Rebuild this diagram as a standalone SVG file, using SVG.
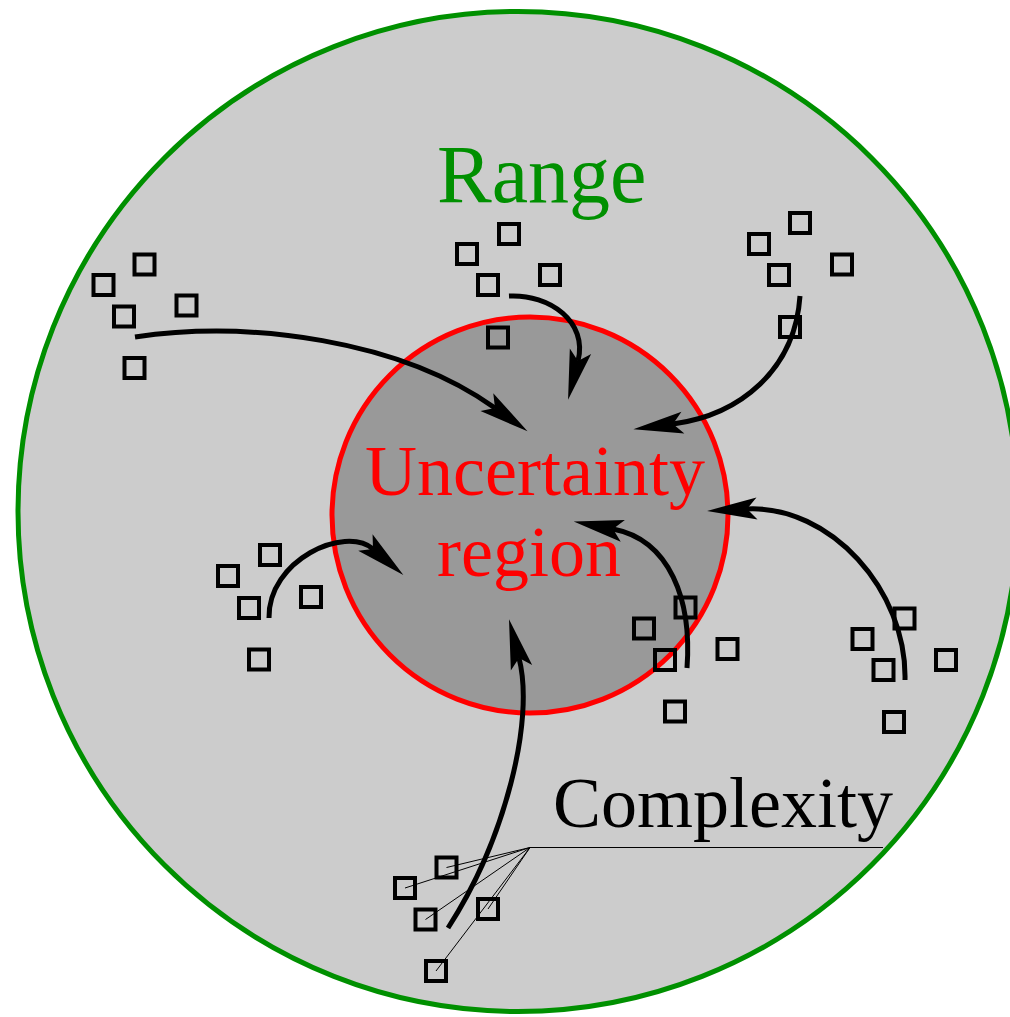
<svg xmlns="http://www.w3.org/2000/svg" width="1010" height="1017" viewBox="0 0 1010 1017">
<style>
.sq{fill:none;stroke:#000;stroke-width:4}
.arr{fill:none;stroke:#000;stroke-width:5}
.lead{fill:none;stroke:#000;stroke-width:1}
.lbl{font-family:"Liberation Serif","Times New Roman",serif}
</style>
<defs>
<marker id="ah" markerUnits="userSpaceOnUse" markerWidth="60" markerHeight="40" viewBox="-15 -15 60 30" refX="0" refY="0" orient="auto" overflow="visible">
<path d="M40,0 L-10,-11 L0,0 L-10,11 Z" fill="#000"/>
</marker>
</defs>
<rect width="1010" height="1017" fill="#fff"/>
<g id="range">
<circle cx="518" cy="511.5" r="500" fill="#cccccc" stroke="#009000" stroke-width="5"/>
<text class="lbl" x="437" y="202" font-size="82" fill="#009000">Range</text>
</g>
<g id="uncertainty">
<circle cx="530" cy="515" r="198" fill="#999999" stroke="#ff0000" stroke-width="5"/>
<text class="lbl" x="535" y="495" font-size="72" fill="#ff0000" text-anchor="middle">Uncertainty</text>
<text class="lbl" x="529" y="576" font-size="72" fill="#ff0000" text-anchor="middle">region</text>
</g>
<g id="group1">
<rect class="sq" x="134.5" y="254.5" width="20" height="20"/>
<rect class="sq" x="93.5" y="275" width="20" height="20"/>
<rect class="sq" x="114" y="306.5" width="20" height="20"/>
<rect class="sq" x="176.5" y="295.5" width="20" height="20"/>
<rect class="sq" x="124.5" y="358" width="20" height="20"/>
</g>
<g id="group2">
<rect class="sq" x="499" y="224" width="20" height="20"/>
<rect class="sq" x="457" y="244" width="20" height="20"/>
<rect class="sq" x="478" y="275" width="20" height="20"/>
<rect class="sq" x="540" y="265" width="20" height="20"/>
<rect class="sq" x="488" y="327.5" width="20" height="20"/>
</g>
<g id="group3">
<rect class="sq" x="790" y="213" width="20" height="20"/>
<rect class="sq" x="749" y="234" width="20" height="20"/>
<rect class="sq" x="769" y="265" width="20" height="20"/>
<rect class="sq" x="832" y="254.5" width="20" height="20"/>
<rect class="sq" x="780" y="317" width="20" height="20"/>
</g>
<g id="group4">
<rect class="sq" x="260" y="545" width="20" height="20"/>
<rect class="sq" x="218" y="566" width="20" height="20"/>
<rect class="sq" x="239" y="598" width="20" height="20"/>
<rect class="sq" x="301" y="587" width="20" height="20"/>
<rect class="sq" x="249" y="649.5" width="20" height="20"/>
</g>
<g id="group5">
<rect class="sq" x="675.5" y="597.5" width="20" height="20"/>
<rect class="sq" x="634" y="618.5" width="20" height="20"/>
<rect class="sq" x="655" y="650" width="20" height="20"/>
<rect class="sq" x="717.5" y="639" width="20" height="20"/>
<rect class="sq" x="665" y="701.5" width="20" height="20"/>
</g>
<g id="group6">
<rect class="sq" x="894.5" y="608.5" width="20" height="20"/>
<rect class="sq" x="852.5" y="629" width="20" height="20"/>
<rect class="sq" x="873.5" y="660" width="20" height="20"/>
<rect class="sq" x="936" y="650" width="20" height="20"/>
<rect class="sq" x="884" y="712" width="20" height="20"/>
</g>
<g id="group7">
<rect class="sq" x="436.5" y="857.5" width="20" height="20"/>
<rect class="sq" x="395" y="878" width="20" height="20"/>
<rect class="sq" x="415.5" y="909.5" width="20" height="20"/>
<rect class="sq" x="478" y="899" width="20" height="20"/>
<rect class="sq" x="426" y="961" width="20" height="20"/>
</g>
<g id="complexity">
<text class="lbl" x="553" y="827" font-size="72" fill="#000">Complexity</text>
</g>
<g id="connectors">
<path class="lead" d="M883,847.5 L530,847.5 M530,847.5 L446.5,867.5 M530,847.5 L405,888 M530,847.5 L425.5,919.5 M530,847.5 L488,909 M530,847.5 L436,971"/>
<path class="arr" marker-end="url(#ah)" d="M135,337 C250,320 400,340 495,408"/>
<path class="arr" marker-end="url(#ah)" d="M509,296 C550,294 588,322 578,361"/>
<path class="arr" marker-end="url(#ah)" d="M800,296 C795,370 740,415 673,424"/>
<path class="arr" marker-end="url(#ah)" d="M269,618 C268,560 345,525 373,549"/>
<path class="arr" marker-end="url(#ah)" d="M687,668 C692,600 670,540 613,529"/>
<path class="arr" marker-end="url(#ah)" d="M905,680 C907,590 830,505 747,509"/>
<path class="arr" marker-end="url(#ah)" d="M448,928 C505,840 535,720 519,658"/>
</g>
</svg>
